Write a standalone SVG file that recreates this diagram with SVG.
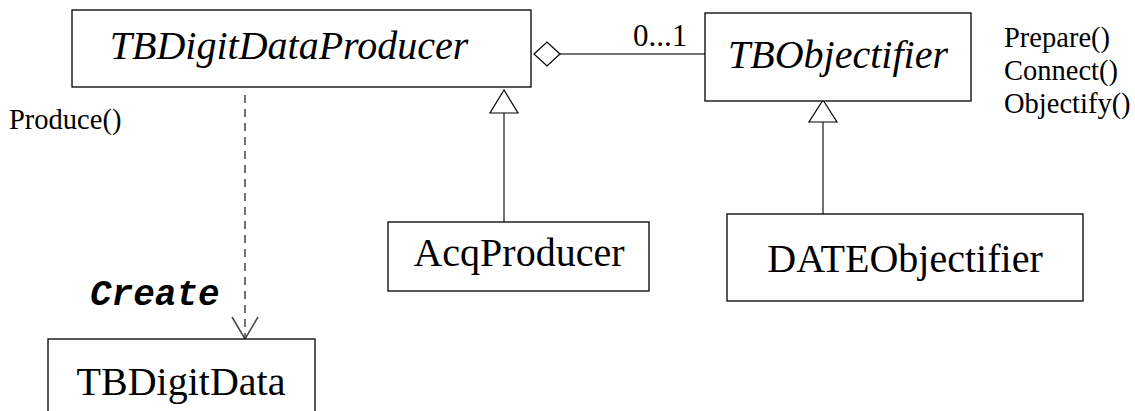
<svg xmlns="http://www.w3.org/2000/svg" width="1135" height="411" viewBox="0 0 1135 411">
<style>
.box{fill:#fff;stroke:#000;stroke-width:1.3}
.t{font-family:"Liberation Serif","Times New Roman",serif;fill:#000}
.name{font-size:40px;text-anchor:middle}
.it{font-style:italic}
.m{font-size:28.5px}
.ln{stroke:#444;stroke-width:1.5;fill:none}
.tri{fill:#fff;stroke:#000;stroke-width:1.2}
.create{font-family:"Liberation Mono","Courier New",monospace;font-weight:bold;font-style:italic;font-size:36px;fill:#000}
</style>
<g id="connectors">
<line class="ln" x1="245" y1="95" x2="245" y2="338" stroke-dasharray="8,6"/>
<polyline class="ln" points="232,317 245,339 258,317" stroke="#000" stroke-width="1.2"/>
<line class="ln" x1="560" y1="54" x2="705" y2="54" stroke="#000" stroke-width="1.2"/>
<polygon class="tri" points="534,54 547,42 560,54 547,66"/>
<line class="ln" x1="504" y1="113" x2="504" y2="222"/>
<polygon class="tri" points="504,90 490,113 518,113"/>
<line class="ln" x1="823" y1="122" x2="823" y2="214"/>
<polygon class="tri" points="823,100 809,122 837,122"/>
<text class="t" x="633" y="46" font-size="31">0...1</text>
<text class="create" x="90" y="305">Create</text>
</g>
<g id="TBDigitDataProducer">
<rect class="box" x="72" y="10" width="459" height="77"/>
<text class="t name it" x="289" y="59">TBDigitDataProducer</text>
<text class="t m" x="9" y="129">Produce()</text>
</g>
<g id="TBObjectifier">
<rect class="box" x="705" y="13" width="266" height="88"/>
<text class="t name it" x="838" y="68">TBObjectifier</text>
<text class="t m" x="1004" y="47">Prepare()</text>
<text class="t m" x="1004" y="80">Connect()</text>
<text class="t m" x="1004" y="113">Objectify()</text>
</g>
<g id="AcqProducer">
<rect class="box" x="388" y="222" width="261" height="69"/>
<text class="t name" x="519" y="266">AcqProducer</text>
</g>
<g id="DATEObjectifier">
<rect class="box" x="727" y="214" width="356" height="87"/>
<text class="t name" x="905" y="272">DATEObjectifier</text>
</g>
<g id="TBDigitData">
<rect class="box" x="48" y="339" width="267" height="90"/>
<text class="t name" x="181" y="395">TBDigitData</text>
</g>
</svg>
